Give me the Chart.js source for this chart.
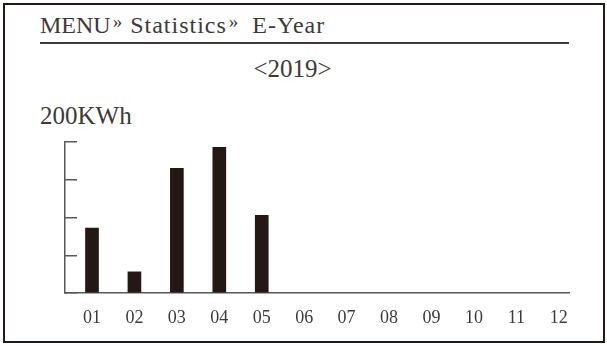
<!DOCTYPE html>
<html>
<head>
<meta charset="utf-8">
<script src="https://cdn.jsdelivr.net/npm/chart.js@4"></script>
<style>
  html, body { margin: 0; padding: 0; background: #fff; }
  #wrap { position: relative; width: 607px; height: 346px; overflow: hidden; font-family: "Liberation Serif", serif; color: #231815; }
  #frame { position: absolute; left: 3px; top: 3px; width: 598px; height: 336px; border: 2px solid #231815; }
  .txt { position: absolute; white-space: nowrap; line-height: 1; }
  #crumb { left: 40px; top: 12px; font-size: 24px; color: #3e3a39; }
  #crumb .sep { font-size: 19px; vertical-align: 5px; margin: 0 2px 0 2px; }
  #crumb .sep.wide { margin-right: 8px; }
  #crumb .wd { letter-spacing: 1px; }
  #rule { position: absolute; left: 40px; top: 42px; width: 529px; height: 2px; background: #3e3a39; }
  #year { left: 0; width: 585px; text-align: center; top: 56px; font-size: 25px; color: #3e3a39; }
  #unit { left: 40px; top: 103px; font-size: 25px; color: #3e3a39; }
  canvas { position: absolute; left: 0; top: 0; }
</style>
</head>
<body>
<div id="wrap">
  <div id="frame"></div>
  <div class="txt" id="crumb">MENU<span class="sep">»</span> <span class="wd">Statistics</span><span class="sep wide">»</span> <span class="wd">E-Year</span></div>
  <div id="rule"></div>
  <div class="txt" id="year">&lt;2019&gt;</div>
  <div class="txt" id="unit">200KWh</div>
  <canvas id="year-chart" width="607" height="346"></canvas>
</div>
<script>
// monthly energy, KWh (scale tops out at 200)
const months = [1, 2, 3, 4, 5, 6, 7, 8, 9, 10, 11, 12];
const monthLabels = ['01', '02', '03', '04', '05', '06', '07', '08', '09', '10', '11', '12'];
const energy = [86, 28, 165, 193, 103, null, null, null, null, null, null, null];
const yTicks = [0, 50, 100, 150, 200];

const ink = '#231815';
const axisGrey = '#595757';

const ctx = document.getElementById('year-chart');

new Chart(ctx, {
  type: 'bar',
  data: {
    datasets: [
      {
        label: 'E-Year',
        data: months.map((m, i) => ({ x: m, y: energy[i] })),
        backgroundColor: ink,
        borderWidth: 0,
        barThickness: 13,
      },
    ],
  },
  options: {
    responsive: false,
    animation: false,
    layout: {
      padding: { left: 0, top: 142, right: 38, bottom: 0 }
    },
    plugins: {
      legend: { display: false },
      tooltip: { enabled: false },
    },
    scales: {
      x: {
        type: 'linear',
        offset: false,
        min: 0.364,
        max: 12.24,
        grid: { display: false },
        border: { display: true, color: axisGrey, width: 1.5 },
        afterBuildTicks: (scale) => {
          scale.ticks = months.map(m => ({ value: m }));
        },
        afterFit: (scale) => { scale.height = 53; },
        ticks: {
          autoSkip: false,
          maxRotation: 0,
          padding: 6,
          color: '#3e3a39',
          font: { family: 'Liberation Serif', size: 18 },
          callback: (value) => monthLabels[value - 1],
        },
      },
      y: {
        min: 0,
        max: 200,
        afterBuildTicks: (scale) => {
          scale.ticks = yTicks.map(v => ({ value: v }));
        },
        afterFit: (scale) => { scale.width = 65; },
        grid: {
          drawOnChartArea: false,
          drawTicks: true,
          tickLength: -12,
          color: axisGrey,
          lineWidth: 1.5,
        },
        border: { display: true, color: axisGrey, width: 1.5 },
        ticks: { display: false },
      },
    },
  },
});
</script>
</body>
</html>
